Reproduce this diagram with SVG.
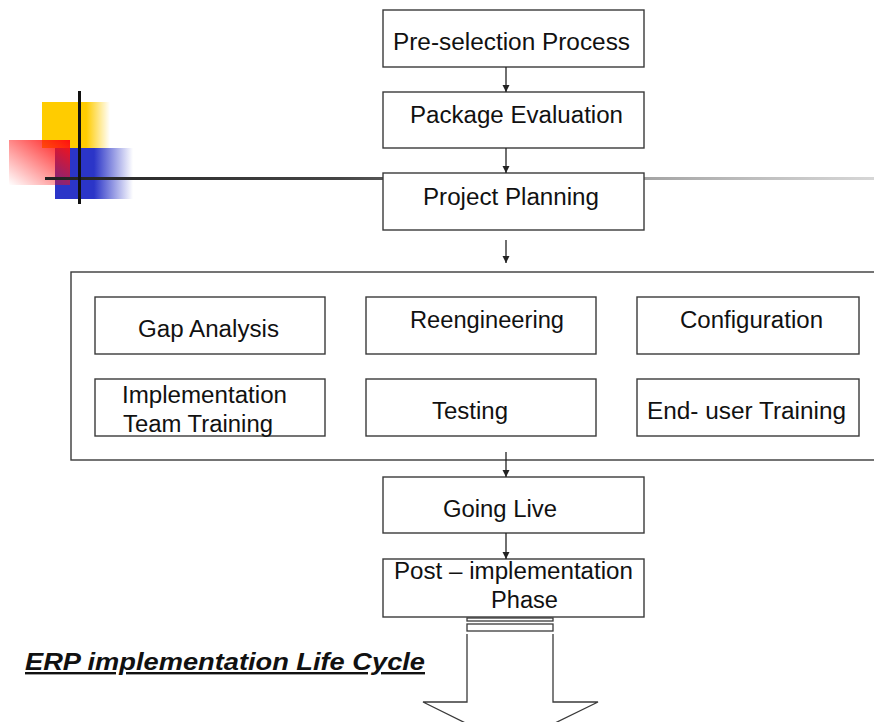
<svg xmlns="http://www.w3.org/2000/svg" width="874" height="722" viewBox="0 0 874 722">
  <style>
    .box { fill: #fff; stroke: #3a3a3a; stroke-width: 1.4; }
    .lbl { font-family: "Liberation Sans", Arial, sans-serif; font-size: 23px; fill: #111; }
    .conn { stroke: #222; stroke-width: 1.3; fill: none; marker-end: url(#arr); }
    .title { font-family: "Liberation Sans", Arial, sans-serif; font-size: 24px; font-weight: bold; font-style: italic; fill: #111; text-decoration: underline; }
  </style>
  <defs>
    <marker id="arr" viewBox="0 0 10 10" refX="10" refY="5" markerWidth="7" markerHeight="8" markerUnits="userSpaceOnUse" orient="auto">
      <path d="M0,0 L10,5 L0,10 z" fill="#222"/>
    </marker>
    <linearGradient id="gYellow" x1="0" y1="0" x2="1" y2="0">
      <stop offset="0" stop-color="#ffcc00"/>
      <stop offset="0.65" stop-color="#ffcc00"/>
      <stop offset="1" stop-color="#ffcc00" stop-opacity="0"/>
    </linearGradient>
    <linearGradient id="gBlue" x1="0" y1="0" x2="1" y2="0">
      <stop offset="0" stop-color="#2b35c8"/>
      <stop offset="0.5" stop-color="#2b35c8"/>
      <stop offset="1" stop-color="#2b35c8" stop-opacity="0"/>
    </linearGradient>
    <linearGradient id="gRed" x1="1" y1="0" x2="0" y2="1">
      <stop offset="0" stop-color="#ff1010"/>
      <stop offset="1" stop-color="#ff1010" stop-opacity="0"/>
    </linearGradient>
    <linearGradient id="gRule" x1="0" y1="0" x2="1" y2="0">
      <stop offset="0" stop-color="#222"/>
      <stop offset="0.35" stop-color="#444"/>
      <stop offset="1" stop-color="#bbb" stop-opacity="0.6"/>
    </linearGradient>
  </defs>

  <!-- corner ornament -->
  <g id="ornament">
    <rect x="42" y="102" width="68" height="46" fill="url(#gYellow)"/>
    <rect x="55" y="148" width="78" height="51" fill="url(#gBlue)"/>
    <rect x="9" y="140" width="61" height="45" fill="url(#gRed)"/>
    <rect x="45" y="177" width="829" height="3" fill="url(#gRule)"/>
    <line x1="79.5" y1="91" x2="79.5" y2="204" stroke="#111" stroke-width="3"/>
  </g>

  <g id="n-preselection">
    <rect class="box" x="383" y="10" width="261" height="57"/>
    <text class="lbl" x="393" y="50" textLength="237" lengthAdjust="spacingAndGlyphs">Pre-selection Process</text>
  </g>
  <g id="n-package">
    <rect class="box" x="383" y="92" width="261" height="56"/>
    <text class="lbl" x="410" y="123" textLength="213" lengthAdjust="spacingAndGlyphs">Package Evaluation</text>
  </g>
  <g id="n-planning">
    <rect class="box" x="383" y="173" width="261" height="57"/>
    <text class="lbl" x="423" y="205" textLength="176" lengthAdjust="spacingAndGlyphs">Project Planning</text>
  </g>

  <g id="n-implementation">
    <rect class="box" x="71" y="272" width="812" height="188"/>
    <g id="n-gap">
      <rect class="box" x="95" y="297" width="230" height="57"/>
      <text class="lbl" x="138" y="337" textLength="141" lengthAdjust="spacingAndGlyphs">Gap Analysis</text>
    </g>
    <g id="n-reeng">
      <rect class="box" x="366" y="297" width="230" height="57"/>
      <text class="lbl" x="410" y="328" textLength="154" lengthAdjust="spacingAndGlyphs">Reengineering</text>
    </g>
    <g id="n-config">
      <rect class="box" x="637" y="297" width="222" height="57"/>
      <text class="lbl" x="680" y="328" textLength="143" lengthAdjust="spacingAndGlyphs">Configuration</text>
    </g>
    <g id="n-teamtraining">
      <rect class="box" x="95" y="379" width="230" height="57"/>
      <text class="lbl" x="122" y="403" textLength="165" lengthAdjust="spacingAndGlyphs">Implementation</text>
      <text class="lbl" x="123" y="432" textLength="150" lengthAdjust="spacingAndGlyphs">Team Training</text>
    </g>
    <g id="n-testing">
      <rect class="box" x="366" y="379" width="230" height="57"/>
      <text class="lbl" x="432" y="419" textLength="76" lengthAdjust="spacingAndGlyphs">Testing</text>
    </g>
    <g id="n-enduser">
      <rect class="box" x="637" y="379" width="222" height="57"/>
      <text class="lbl" x="647" y="419" textLength="199" lengthAdjust="spacingAndGlyphs">End- user Training</text>
    </g>
  </g>

  <g id="n-golive">
    <rect class="box" x="383" y="477" width="261" height="56"/>
    <text class="lbl" x="443" y="517" textLength="114" lengthAdjust="spacingAndGlyphs">Going Live</text>
  </g>
  <g id="n-post">
    <rect class="box" x="383" y="559" width="261" height="58"/>
    <text class="lbl" x="394" y="579" textLength="239" lengthAdjust="spacingAndGlyphs">Post – implementation</text>
    <text class="lbl" x="491" y="608" textLength="67" lengthAdjust="spacingAndGlyphs">Phase</text>
  </g>

  <g id="connectors">
    <line class="conn" x1="506" y1="67" x2="506" y2="92"/>
    <line class="conn" x1="506" y1="148" x2="506" y2="173"/>
    <line class="conn" x1="506" y1="240" x2="506" y2="263"/>
    <line class="conn" x1="506" y1="452" x2="506" y2="477"/>
    <line class="conn" x1="506" y1="533" x2="506" y2="559"/>
  </g>

  <!-- striped block arrow below the last phase -->
  <g id="n-blockarrow" fill="#fff" stroke="#3a3a3a" stroke-width="1.3">
    <rect x="467" y="618" width="86" height="3"/>
    <rect x="467" y="624" width="86" height="7"/>
    <path d="M467,634 L467,702 L423,702 L510,745 L598,702 L553,702 L553,634"/>
  </g>

  <g id="caption">
    <text class="title" x="25" y="670" textLength="400" lengthAdjust="spacingAndGlyphs">ERP implementation Life Cycle</text>
  </g>
</svg>
